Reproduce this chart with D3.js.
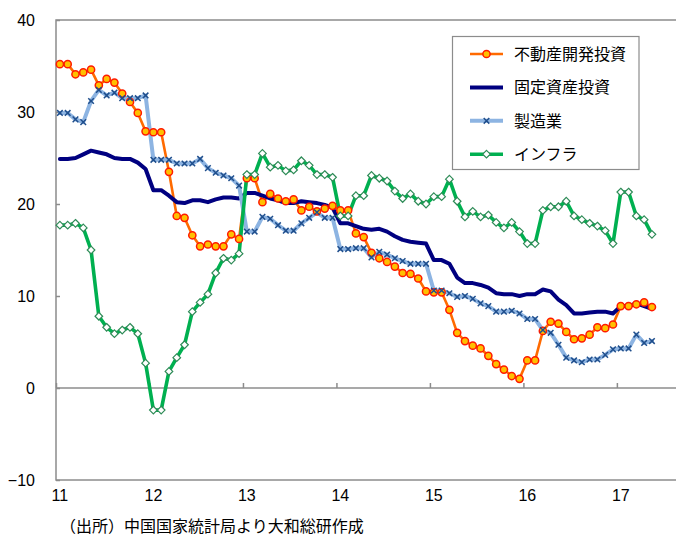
<!DOCTYPE html>
<html>
<head>
<meta charset="utf-8">
<script src="https://cdn.jsdelivr.net/npm/d3@7"></script>
<style>
  html, body { margin: 0; padding: 0; background: #fff; }
  svg { display: block; font-family: "Noto Sans CJK JP", "Noto Sans", sans-serif; }
</style>
</head>
<body>
<svg id="chart" width="676" height="537"></svg>
<script>
// Year-to-date growth (%, y/y), monthly from Jan 2011 to May 2017.
// January repeats the combined Jan-Feb figure.
const startYear = 2011;
const yearLabels = ["11", "12", "13", "14", "15", "16", "17"];
const monthCount = 80; // category slots on the axis (Jan 2011 - Aug 2017)

const realEstate = [
  35.2, 35.2, 34.1, 34.3, 34.6, 32.9, 33.6, 33.2, 32.0, 31.1, 29.9, 27.9,
  27.8, 27.8, 23.5, 18.7, 18.5, 16.6, 15.4, 15.6, 15.4, 15.4, 16.7, 16.2,
  22.8, 22.8, 20.2, 21.1, 20.6, 20.3, 20.5, 19.3, 19.7, 19.2, 19.5, 19.8,
  19.3, 19.3, 16.8, 16.4, 14.7, 14.1, 13.7, 13.2, 12.5, 12.4, 11.9, 10.5,
  10.4, 10.4, 8.5, 6.0, 5.1, 4.6, 4.3, 3.5, 2.6, 2.0, 1.3, 1.0,
  3.0, 3.0, 6.2, 7.2, 7.0, 6.1, 5.3, 5.4, 5.8, 6.6, 6.5, 6.9,
  8.9, 8.9, 9.1, 9.3, 8.8
];
const fixedAsset = [
  24.9, 24.9, 25.0, 25.4, 25.8, 25.6, 25.4, 25.0, 24.9, 24.9, 24.5, 23.8,
  21.5, 21.5, 20.9, 20.2, 20.1, 20.4, 20.4, 20.2, 20.5, 20.7, 20.7, 20.6,
  21.2, 21.2, 20.9, 20.6, 20.4, 20.1, 20.1, 20.3, 20.2, 20.1, 19.9, 19.6,
  17.9, 17.9, 17.6, 17.3, 17.2, 17.3, 17.0, 16.5, 16.1, 15.9, 15.8, 15.7,
  13.9, 13.9, 13.5, 12.0, 11.4, 11.4, 11.2, 10.9, 10.3, 10.2, 10.2, 10.0,
  10.2, 10.2, 10.7, 10.5, 9.6, 9.0, 8.1, 8.1, 8.2, 8.3, 8.3, 8.1,
  8.9, 8.9, 9.2, 8.9, 8.6
];
const manufacturing = [
  29.9, 29.9, 29.2, 28.9, 31.2, 32.4, 31.8, 32.1, 31.5, 31.5, 31.5, 31.8,
  24.8, 24.8, 24.8, 24.4, 24.4, 24.4, 24.9, 23.9, 23.4, 23.1, 22.8, 22.0,
  17.0, 17.0, 18.6, 18.4, 17.7, 17.1, 17.1, 17.9, 18.5, 19.1, 18.5, 18.5,
  15.1, 15.1, 15.2, 15.2, 14.2, 14.8, 14.5, 14.1, 13.8, 13.5, 13.5, 13.5,
  10.6, 10.6, 10.3, 9.9, 10.0, 9.7, 9.2, 8.9, 8.3, 8.3, 8.4, 8.1,
  7.5, 7.5, 6.3, 6.0, 4.7, 3.3, 3.0, 2.8, 3.1, 3.1, 3.6, 4.2,
  4.3, 4.3, 5.8, 4.9, 5.1
];
const infrastructure = [
  17.7, 17.7, 17.9, 17.4, 15.0, 7.8, 6.6, 5.9, 6.3, 6.6, 5.9, 2.7,
  -2.4, -2.4, 1.8, 3.3, 4.7, 8.3, 9.3, 10.2, 12.5, 14.1, 13.9, 14.6,
  23.2, 23.2, 25.5, 24.0, 24.2, 23.6, 23.7, 24.7, 24.2, 23.2, 23.2, 22.9,
  18.7, 18.7, 20.9, 20.9, 23.1, 22.8, 22.5, 21.4, 20.6, 21.1, 20.3, 20.0,
  20.8, 20.8, 22.7, 20.3, 18.6, 19.2, 18.6, 18.8, 18.0, 17.4, 18.0, 17.0,
  15.7, 15.7, 19.3, 19.7, 19.7, 20.3, 18.7, 18.3, 17.9, 17.6, 17.1, 15.7,
  21.3, 21.3, 18.7, 18.3, 16.7
];
const seriesNames = ["不動産開発投資", "固定資産投資", "製造業", "インフラ"];
const yTicks = [40, 30, 20, 10, 0, -10];
const sourceNote = "（出所）中国国家統計局より大和総研作成";

// Month categories "YYYY-MM"
const months = d3.range(monthCount).map(i =>
  `${startYear + Math.floor(i / 12)}-${String(i % 12 + 1).padStart(2, "0")}`);

const svg = d3.select("#chart");
const W = 676, H = 537;
const plot = { left: 56, top: 20, bottom: 480, step: 7.79 };
plot.right = plot.left + monthCount * plot.step;

const x = d3.scaleBand().domain(months).range([plot.left, plot.right]).paddingInner(0).paddingOuter(0);
const xc = m => x(m) + x.bandwidth() / 2;
const y = d3.scaleLinear().domain([-10, 40]).range([plot.bottom, plot.top]);

const axisColor = "#8c8c8c";

// Plot frame
svg.append("rect")
  .attr("x", plot.left).attr("y", plot.top)
  .attr("width", plot.right - plot.left).attr("height", plot.bottom - plot.top)
  .attr("fill", "none").attr("stroke", axisColor).attr("stroke-width", 1.5);

// Zero line
svg.append("line")
  .attr("x1", plot.left).attr("x2", plot.right)
  .attr("y1", y(0)).attr("y2", y(0))
  .attr("stroke", axisColor).attr("stroke-width", 1.5);

// Y axis: inward ticks, labels on the left
const yAxis = d3.axisLeft(y).tickValues(yTicks).tickFormat(d => d < 0 ? "−" + Math.abs(d) : d)
  .tickSizeInner(-4).tickSizeOuter(0).tickPadding(21);
const gy = svg.append("g").attr("transform", `translate(${plot.left},0)`).call(yAxis);
gy.select(".domain").remove();
gy.selectAll("line").attr("stroke", axisColor).attr("stroke-width", 1.5);
gy.selectAll("text").attr("font-size", 16).attr("fill", "#000").attr("dy", "0.36em");

// Year boundary ticks on the zero line
const yearStarts = yearLabels.map((_, i) => months[i * 12]);
const tickAxis = d3.axisTop(d3.scaleLinear().domain([plot.left, plot.right]).range([plot.left, plot.right]))
  .tickValues(yearStarts.map(m => x(m)).concat([x(months[months.length - 1]) + x.bandwidth()]).filter(v => v <= W))
  .tickFormat("").tickSizeInner(5).tickSizeOuter(0);
const gt = svg.append("g").attr("transform", `translate(0,${y(0)})`).call(tickAxis);
gt.select(".domain").remove();
gt.selectAll("line").attr("stroke", axisColor).attr("stroke-width", 1.5);

// Year labels below the plot, centred on January
const xAxis = d3.axisBottom(x).tickValues(yearStarts)
  .tickFormat((m, i) => yearLabels[i]).tickSize(0).tickPadding(10);
const gx = svg.append("g").attr("transform", `translate(0,${plot.bottom})`).call(xAxis);
gx.select(".domain").remove();
gx.selectAll("text").attr("font-size", 16).attr("fill", "#000");

// Series definitions
const series = [
  { name: seriesNames[0], values: realEstate, color: "#ff6a00", width: 2.6, marker: "circle" },
  { name: seriesNames[1], values: fixedAsset, color: "#000080", width: 4, marker: null },
  { name: seriesNames[2], values: manufacturing, color: "#8db4e2", width: 4, marker: "cross" },
  { name: seriesNames[3], values: infrastructure, color: "#00b050", width: 3.6, marker: "diamond" }
];

const line = d3.line().x((d, i) => xc(months[i])).y(d => y(d));

const gLines = svg.append("g");
series.forEach(s => {
  gLines.append("path").datum(s.values)
    .attr("d", line).attr("fill", "none")
    .attr("stroke", s.color).attr("stroke-width", s.width)
    .attr("stroke-linejoin", "round").attr("stroke-linecap", "round");
});

function drawMarker(g, type, cx, cy) {
  if (type === "circle") {
    g.append("circle").attr("cx", cx).attr("cy", cy).attr("r", 3.6)
      .attr("fill", "#ffc000").attr("stroke", "#ff1a00").attr("stroke-width", 1.5);
  } else if (type === "cross") {
    const r = 2.8;
    g.append("path")
      .attr("d", `M${cx - r},${cy - r}L${cx + r},${cy + r}M${cx - r},${cy + r}L${cx + r},${cy - r}`)
      .attr("stroke", "#1f4e8c").attr("stroke-width", 1.5).attr("fill", "none");
  } else if (type === "diamond") {
    const r = 3.8;
    g.append("path")
      .attr("d", `M${cx},${cy - r}L${cx + r},${cy}L${cx},${cy + r}L${cx - r},${cy}Z`)
      .attr("fill", "#fff").attr("stroke", "#2e8b57").attr("stroke-width", 1.2);
  }
}

const gMarks = svg.append("g");
series.forEach(s => {
  if (!s.marker) return;
  s.values.forEach((v, i) => drawMarker(gMarks, s.marker, xc(months[i]), y(v)));
});

// Legend
const lg = svg.append("g");
lg.append("rect").attr("x", 452.5).attr("y", 36.5).attr("width", 186.5).attr("height", 133)
  .attr("fill", "#fff").attr("stroke", axisColor).attr("stroke-width", 1.2);
series.forEach((s, i) => {
  const ly = 54 + i * 33.4;
  lg.append("line").attr("x1", 470).attr("x2", 503).attr("y1", ly).attr("y2", ly)
    .attr("stroke", s.color).attr("stroke-width", s.width);
  if (s.marker) drawMarker(lg, s.marker, 486.5, ly);
  lg.append("text").attr("x", 514).attr("y", ly).attr("dy", "0.36em")
    .attr("font-size", 16).attr("fill", "#000").text(s.name);
});

// Source note
svg.append("text").attr("x", 60).attr("y", 532)
  .attr("font-size", 16).attr("fill", "#000").text(sourceNote);
</script>
</body>
</html>
